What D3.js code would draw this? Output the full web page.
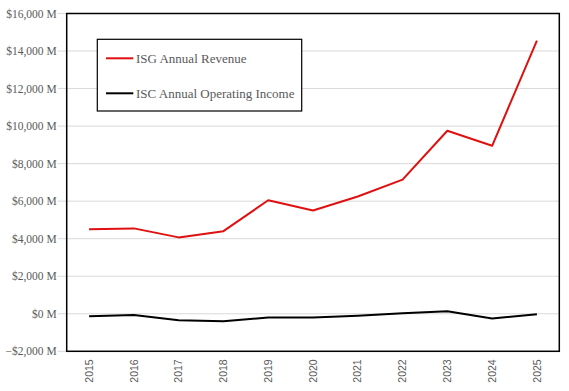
<!DOCTYPE html>
<html><head><meta charset="utf-8">
<script src="https://cdn.jsdelivr.net/npm/d3@7"></script>
<style>body{margin:0;background:#fff}svg{display:block}</style>
</head><body>
<script>
const years = ["2015","2016","2017","2018","2019","2020","2021","2022","2023","2024","2025"];
const revenue = [4500, 4550, 4070, 4400, 6050, 5500, 6250, 7150, 9750, 8950, 14550];
const opIncome = [-130, -60, -350, -400, -200, -200, -110, 30, 130, -250, -20];
const yTicks = [-2000, 0, 2000, 4000, 6000, 8000, 10000, 12000, 14000, 16000];
const seriesNames = ["ISG Annual Revenue", "ISC Annual Operating Income"];
const seriesColors = ["#e01010", "#000000"];

const W = 569, H = 391;
const m = {left: 66.7, right: 569 - 559.3, top: 13.5, bottom: 391 - 351.3};
const svg = d3.select("body").append("svg").attr("width", W).attr("height", H);

const x = d3.scalePoint().domain(years).range([m.left, W - m.right]).padding(0.5);
const y = d3.scaleLinear().domain([-2000, 16000]).range([H - m.bottom, m.top]);

const fmt = v => (v < 0 ? "\u2212$" : "$") + d3.format(",")(Math.abs(v)) + " M";

// gridlines
svg.append("g").selectAll("line").data(yTicks).join("line")
  .attr("x1", m.left - 9).attr("x2", W - m.right)
  .attr("y1", d => y(d)).attr("y2", d => y(d))
  .attr("stroke", "#d9d9d9").attr("stroke-width", 1);

// y labels
svg.append("g").selectAll("text").data(yTicks).join("text")
  .attr("x", m.left - 10).attr("y", d => y(d)).attr("dy", "0.35em")
  .attr("text-anchor", "end")
  .attr("font-family", "Liberation Serif, serif").attr("font-size", 11.5)
  .attr("fill", "#595959").text(fmt);

// x labels
svg.append("g").selectAll("text").data(years).join("text")
  .attr("transform", d => `translate(${x(d)},${H - m.bottom + 8}) rotate(-90)`)
  .attr("text-anchor", "end").attr("dy", "0.35em")
  .attr("font-family", "Liberation Sans, Arial, sans-serif").attr("font-size", 10.5)
  .attr("fill", "#595959").text(d => d);

// lines
const line = d3.line().x((d, i) => x(years[i])).y(d => y(d));
[revenue, opIncome].forEach((s, k) => {
  svg.append("path").datum(s).attr("d", line)
    .attr("fill", "none").attr("stroke", seriesColors[k]).attr("stroke-width", 2)
    .attr("stroke-linejoin", "round");
});

// border
svg.append("rect").attr("x", m.left).attr("y", m.top)
  .attr("width", W - m.right - m.left).attr("height", H - m.bottom - m.top)
  .attr("fill", "none").attr("stroke", "#000").attr("stroke-width", 1.5);

// legend
const lg = svg.append("g");
lg.append("rect").attr("x", 97.3).attr("y", 39.3).attr("width", 204.4).attr("height", 71.7)
  .attr("fill", "#fff").attr("stroke", "#000").attr("stroke-width", 1.2);
[58.3, 93.3].forEach((ly, k) => {
  lg.append("line").attr("x1", 106).attr("x2", 133.3).attr("y1", ly).attr("y2", ly)
    .attr("stroke", seriesColors[k]).attr("stroke-width", 2);
  lg.append("text").attr("x", 136).attr("y", ly).attr("dy", "0.33em")
    .attr("font-family", "Liberation Serif, serif").attr("font-size", 13)
    .attr("fill", "#595959").text(seriesNames[k]);
});
</script>
</body></html>
